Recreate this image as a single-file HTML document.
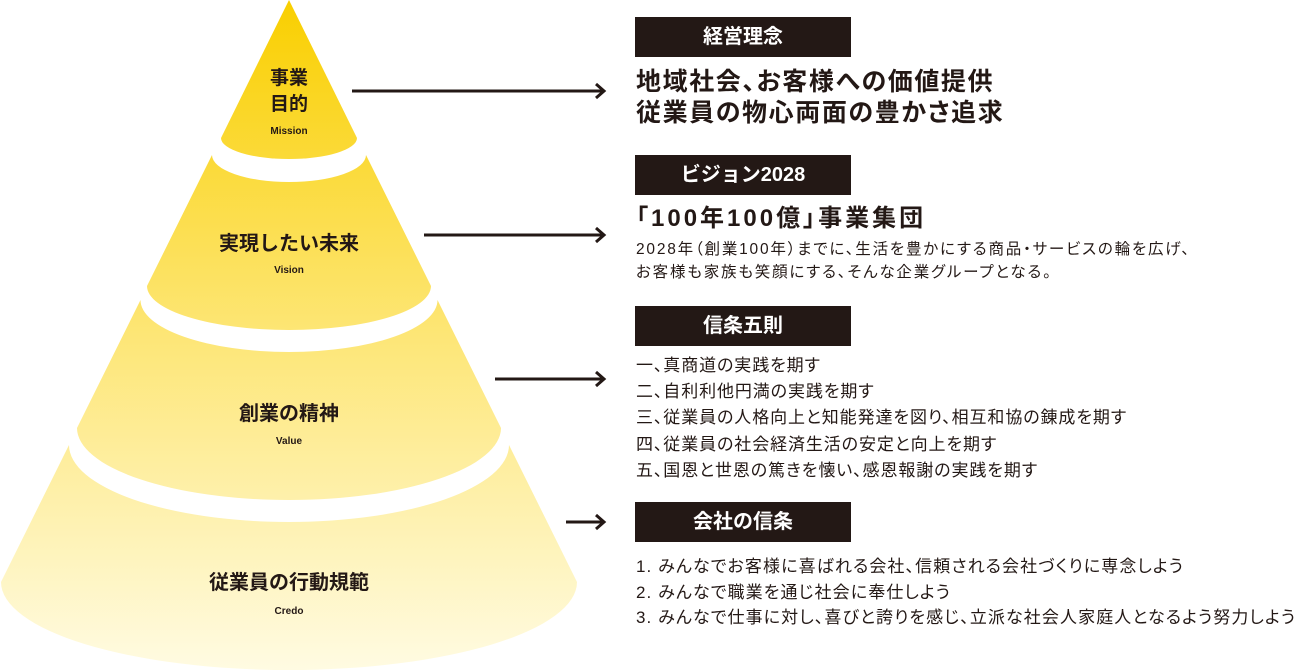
<!DOCTYPE html>
<html><head><meta charset="utf-8"><style>
body{margin:0;background:#fff;width:1295px;height:670px;overflow:hidden;position:relative;font-family:"Liberation Sans","Noto Sans CJK JP",sans-serif;color:#231815}
.box{position:absolute;left:635px;width:216px;height:40px;background:#231815;color:#fff;font-weight:bold;font-size:20px;line-height:40px;text-align:center}
.t{position:absolute;left:636px;white-space:nowrap}
.p{font-feature-settings:"palt" 1}
</style></head><body>
<svg width="1295" height="670" style="position:absolute;left:0;top:0">
<defs><linearGradient id="g" gradientUnits="userSpaceOnUse" x1="0" y1="0" x2="0" y2="670">
<stop offset="0" stop-color="#f9cf00"/><stop offset="0.5" stop-color="#fde676"/><stop offset="1" stop-color="#fffbe2"/></linearGradient></defs>
<g fill="url(#g)">
<path d="M289 0 L357 138 A68 21 0 0 1 221 138 Z"/>
<path d="M212 155 A77 27 0 0 0 366 155 L431 286 A142 44 0 0 1 147 286 Z"/>
<path d="M140.5 300 A148.5 52 0 0 0 437.5 300 L501 428 A212 72 0 0 1 77 428 Z"/>
<path d="M69 445 A220 77 0 0 0 509 445 L577 582 A288 88 0 0 1 1 582 Z"/>
</g>
<g stroke="#231815" stroke-width="3" fill="none">
<line x1="352" y1="91" x2="604" y2="91"/><polyline points="596,84 604,91 596,98"/>
<line x1="424" y1="235" x2="604" y2="235"/><polyline points="596,228 604,235 596,242"/>
<line x1="495" y1="379" x2="604" y2="379"/><polyline points="596,372 604,379 596,386"/>
<line x1="566" y1="522" x2="604" y2="522"/><polyline points="596,515 604,522 596,529"/>
</g>
<g font-family="Liberation Sans, Noto Sans CJK JP, sans-serif" font-weight="bold" fill="#231815" text-anchor="middle">
<text x="289" y="84" font-size="19">事業</text>
<text x="289" y="110" font-size="19">目的</text>
<text x="289" y="134" font-size="10">Mission</text>
<text x="289" y="250" font-size="20">実現したい未来</text>
<text x="289" y="273" font-size="10">Vision</text>
<text x="289" y="420" font-size="20">創業の精神</text>
<text x="289" y="444" font-size="10">Value</text>
<text x="289" y="589" font-size="20">従業員の行動規範</text>
<text x="289" y="614" font-size="10">Credo</text>
</g>
</svg>
<div class="box" style="top:17px">経営理念</div>
<div class="t p" style="top:67px;font-size:25px;font-weight:bold;line-height:31px;letter-spacing:1.6px">地域社会、お客様への価値提供<br>従業員の物心両面の豊かさ追求</div>
<div class="box" style="top:155px">ビジョン2028</div>
<div class="t p" style="top:205px;font-size:24px;font-weight:bold;line-height:28px;letter-spacing:3px">「100年100億」事業集団</div>
<div class="t p" style="top:238px;font-size:15.5px;line-height:23px;letter-spacing:1.8px">2028年（創業100年）までに、生活を豊かにする商品・サービスの輪を広げ、<br>お客様も家族も笑顔にする、そんな企業グループとなる。</div>
<div class="box" style="top:306px">信条五則</div>
<div class="t p" style="top:353px;font-size:17px;line-height:26.2px;letter-spacing:0.9px">一、真商道の実践を期す<br>二、自利利他円満の実践を期す<br>三、従業員の人格向上と知能発達を図り、相互和協の錬成を期す<br>四、従業員の社会経済生活の安定と向上を期す<br>五、国恩と世恩の篤きを懐い、感恩報謝の実践を期す</div>
<div class="box" style="top:502px">会社の信条</div>
<div class="t p" style="top:554px;font-size:17px;line-height:25.5px;letter-spacing:1.1px">1. みんなでお客様に喜ばれる会社、信頼される会社づくりに専念しよう<br>2. みんなで職業を通じ社会に奉仕しよう<br>3. みんなで仕事に対し、喜びと誇りを感じ、立派な社会人家庭人となるよう努力しよう</div>
</body></html>
